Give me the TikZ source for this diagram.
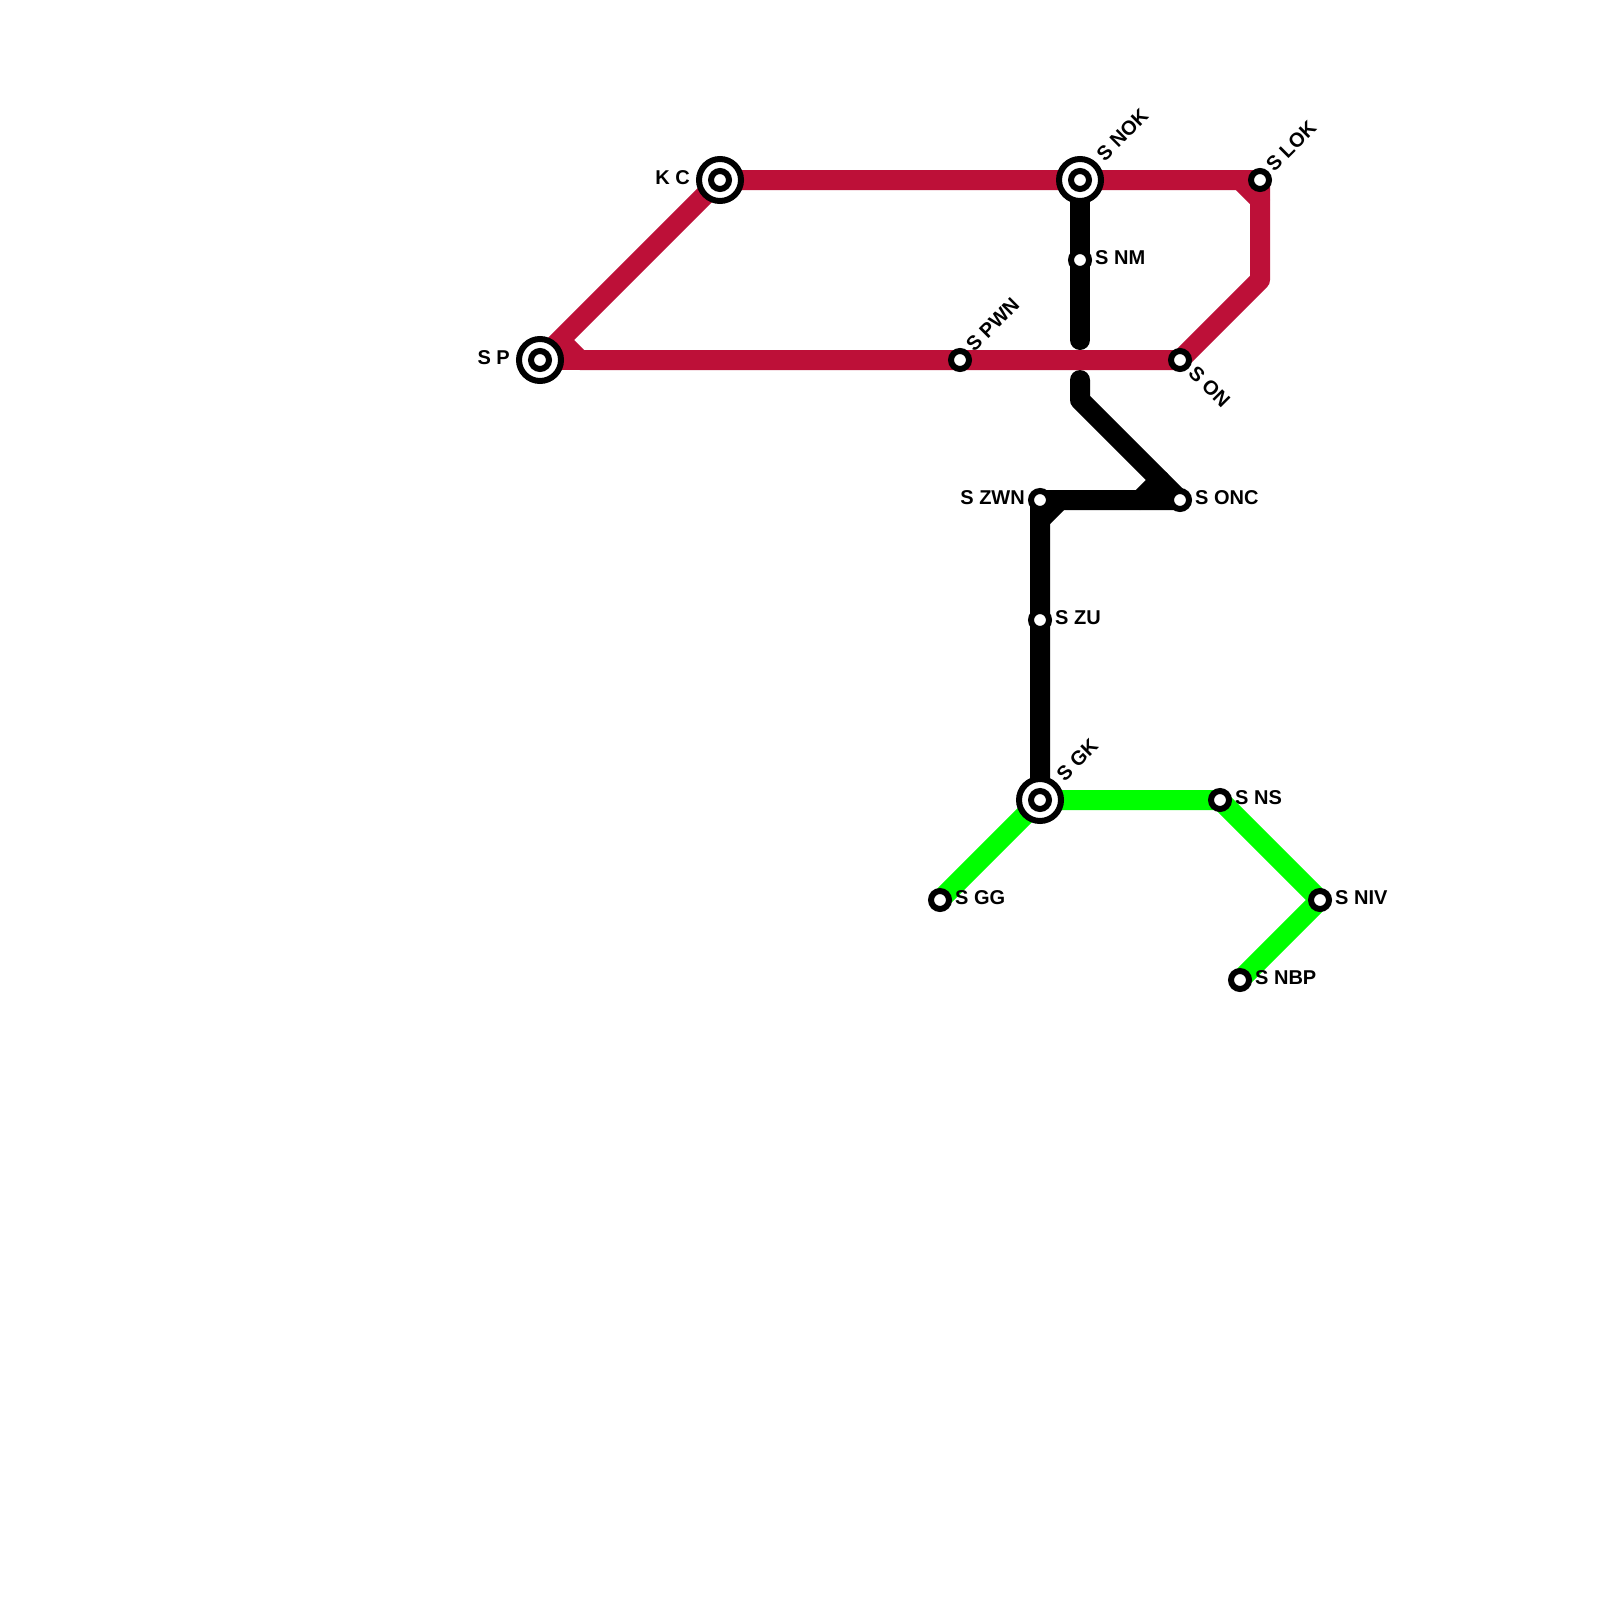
\documentclass[tikz,border=0pt]{standalone}
\usepackage{fontspec}
\setmainfont{Liberation Sans}
\definecolor{redline}{HTML}{BD1038}
\definecolor{greenline}{HTML}{00FF00}
\tikzset{
  x=1pt,y=-1pt,
  metro/.style={line width=20pt,line join=round,line cap=round},
  redroute/.style={metro,draw=redline},
  blackroute/.style={metro,draw=black},
  greenroute/.style={metro,draw=greenline},
  smallstop/.style={circle,draw=black,fill=white,line width=6pt,minimum size=18pt,inner sep=0pt},
  bigstop/.style={circle,draw=black,fill=white,line width=6pt,minimum size=42pt,inner sep=0pt},
  lab/.style={inner sep=0pt,font=\fontsize{20pt}{24pt}\selectfont\bfseries,text=black},
  labr/.style={lab,anchor=base west},
  labl/.style={lab,anchor=base east},
}
\begin{document}
\begin{tikzpicture}
\useasboundingbox[fill=white] (0,0) rectangle (1600,1600);
% bends
\coordinate (r1) at (560,340);
\coordinate (r2) at (580,360);
\coordinate (r3) at (1240,180);
\coordinate (r4) at (1260,200);
\coordinate (r5) at (1260,280);
\coordinate (b1) at (1080,340);
\coordinate (b2) at (1080,380);
\coordinate (b3) at (1080,400);
\coordinate (b4) at (1160,480);
\coordinate (b5) at (1140,500);
\coordinate (b6) at (1060,500);
\coordinate (b7) at (1040,520);
% station positions
\coordinate (P) at (540,360);
\coordinate (KC) at (720,180);
\coordinate (NOK) at (1080,180);
\coordinate (LOK) at (1260,180);
\coordinate (NM) at (1080,260);
\coordinate (PWN) at (960,360);
\coordinate (ON) at (1180,360);
\coordinate (ZWN) at (1040,500);
\coordinate (ONC) at (1180,500);
\coordinate (ZU) at (1040,620);
\coordinate (GK) at (1040,800);
\coordinate (GG) at (940,900);
\coordinate (NS) at (1220,800);
\coordinate (NIV) at (1320,900);
\coordinate (NBP) at (1240,980);
% routes
\draw[greenroute] (GG) -- (GK) -- (NS) -- (NIV) -- (NBP);
\draw[blackroute] (NOK) -- (NM) -- (b1);
\draw[blackroute] (b2) -- (b3) -- (ONC) -- (ZWN) -- (ZU) -- (GK);
\draw[blackroute] (b4) -- (b5);
\draw[blackroute] (b6) -- (b7);
\draw[redroute] (P) -- (r1) -- (KC) -- (NOK) -- (r3) -- (LOK) -- (r5) -- (ON) -- (PWN) -- (r2) -- (r1);
\draw[redroute] (r2) -- (P);
\draw[redroute] (r3) -- (r4);
% stations
\node[bigstop] (sP) at (P) {};
\node[smallstop] (sPi) at (P) {};
\node[bigstop] (sKC) at (KC) {};
\node[smallstop] (sKCi) at (KC) {};
\node[bigstop] (sNOK) at (NOK) {};
\node[smallstop] (sNOKi) at (NOK) {};
\node[bigstop] (sGK) at (GK) {};
\node[smallstop] (sGKi) at (GK) {};
\node[smallstop] (sLOK) at (LOK) {};
\node[smallstop] (sNM) at (NM) {};
\node[smallstop] (sPWN) at (PWN) {};
\node[smallstop] (sON) at (ON) {};
\node[smallstop] (sZWN) at (ZWN) {};
\node[smallstop] (sONC) at (ONC) {};
\node[smallstop] (sZU) at (ZU) {};
\node[smallstop] (sGG) at (GG) {};
\node[smallstop] (sNS) at (NS) {};
\node[smallstop] (sNIV) at (NIV) {};
\node[smallstop] (sNBP) at (NBP) {};
% labels
\node[labl] (tP) at (510,364.5) {S P};
\node[labl] (tKC) at (690,184.5) {K C};
\node[labl] (tZWN) at (1025,504.5) {S ZWN};
\node[labr] (tNM) at (1095,264.5) {S NM};
\node[labr] (tONC) at (1195,504.5) {S ONC};
\node[labr] (tZU) at (1055,624.5) {S ZU};
\node[labr] (tNS) at (1235,804.5) {S NS};
\node[labr] (tGG) at (955,904.5) {S GG};
\node[labr] (tNIV) at (1335,904.5) {S NIV};
\node[labr] (tNBP) at (1255,984.5) {S NBP};
\node[labr,rotate=45] (tNOK) at (1104.7,162.3) {S NOK};
\node[labr,rotate=45] (tGK) at (1064.7,782.3) {S GK};
\node[labr,rotate=45] (tLOK) at (1274.1,172.9) {S LOK};
\node[labr,rotate=45] (tPWN) at (974.1,352.9) {S PWN};
\node[labr,rotate=-45] (tON) at (1187.1,374.1) {S ON};
\end{tikzpicture}
\end{document}
